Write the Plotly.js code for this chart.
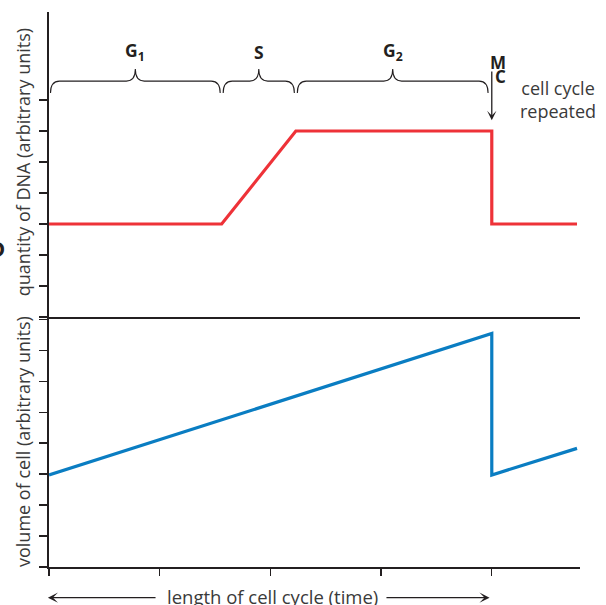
<!DOCTYPE html>
<html>
<head>
<meta charset="utf-8">
<script src="https://cdn.plot.ly/plotly-3.0.1.min.js"></script>
<style>
html,body{margin:0;padding:0;background:#fff;}
#chart{width:606px;height:605px;}
</style>
</head>
<body>
<div id="chart"></div>
<script>
// ---- data ----
const phaseLabels = ['G<sub>1</sub>', 'S', 'G<sub>2</sub>'];
const phaseStart = [0, 1.56, 2.23];
const phaseEnd = [1.56, 2.23, 3.98];

const timeDNA = [0, 1.56, 2.23, 4.0, 4.0, 4.77];
const dnaQty = [3, 3, 6, 6, 3, 3];

const timeVol = [0, 4.0, 4.0, 4.77];
const cellVol = [2.97, 7.54, 2.97, 3.83];

const xTickVals = [0, 1, 2, 3, 4];
const dnaTickVals = [0, 1, 2, 3, 4, 5, 6, 7];
const volTickVals = [0, 1, 2, 3, 4, 5, 6, 7, 8];

const mitosisTime = 4.0;

const dnaTitle = 'quantity of DNA (arbitrary units)';
const volTitle = 'volume of cell (arbitrary units)';
const timeTitle = 'length of cell cycle (time)';

// ---- styling ----
const FONT = 'Open Sans, Noto Sans, sans-serif';
const TEXT = '#3a3a3a';
const AX = '#231f20';
const RED = '#ee3238';
const BLUE = '#0a7dc2';

const traces = [
  {x: timeDNA, y: dnaQty, xaxis: 'x2', yaxis: 'y2', mode: 'lines',
   line: {color: RED, width: 3.2}, hoverinfo: 'skip', showlegend: false},
  {x: timeVol, y: cellVol, xaxis: 'x', yaxis: 'y', mode: 'lines',
   line: {color: BLUE, width: 3.2}, hoverinfo: 'skip', showlegend: false}
];

// brace shapes built from phase boundaries (data units of top panel)
const kx = 1 / 110.7, ky = 1 / 31;
function brace(x0, x1, yb) {
  x0 += 1.5 * kx; x1 -= 1.5 * kx;
  const xm = (x0 + x1) / 2, c = 9 * kx, h = 12 * ky;
  return `M${x0},${yb - h} Q${x0},${yb} ${x0 + c},${yb} L${xm - c},${yb} ` +
         `Q${xm},${yb} ${xm},${yb + h} Q${xm},${yb} ${xm + c},${yb} ` +
         `L${x1 - c},${yb} Q${x1},${yb} ${x1},${yb - h}`;
}
const shapes = phaseLabels.map((_, i) => ({
  type: 'path', xref: 'x2', yref: 'y2',
  path: brace(phaseStart[i], phaseEnd[i], 7.61),
  line: {color: AX, width: 1.1}
}));

const split = 250 / 555;

const annotations = phaseLabels.map((t, i) => ({
  xref: 'x2', yref: 'y2', x: (phaseStart[i] + phaseEnd[i]) / 2, y: 8.56,
  text: '<b>' + t + '</b>', showarrow: false,
  font: {family: FONT, size: 17.5, color: AX}
}));
annotations.push(
  {xref: 'x2', yref: 'y2', x: mitosisTime + 0.055, y: 8.2, text: '<b>M</b>', showarrow: false,
   font: {family: FONT, size: 17, color: AX}},
  {xref: 'x2', yref: 'y2', x: mitosisTime + 0.075, y: 7.76, text: '<b>C</b>', showarrow: false,
   font: {family: FONT, size: 17, color: AX}},
  {xref: 'x2', yref: 'y2', x: mitosisTime, y: 6.35, ax: mitosisTime, ay: 7.97,
   axref: 'x2', ayref: 'y2', text: '', showarrow: true, arrowhead: 3,
   arrowsize: 1.2, arrowwidth: 1.3, arrowcolor: AX},
  {xref: 'x2', yref: 'y2', x: 4.6, y: 7.02, text: 'cell cycle<br>repeated', showarrow: false,
   font: {family: FONT, size: 18, color: TEXT}},
  {xref: 'x', yref: 'paper', x: 2.02, y: -0.054, text: timeTitle,
   showarrow: false, yanchor: 'middle', font: {family: FONT, size: 18.5, color: TEXT}},
  {xref: 'x', yref: 'paper', x: -0.01, y: -0.0553, ax: 0.976, ay: 0, axref: 'x', ayref: 'pixel',
   text: '', showarrow: true, arrowhead: 3, arrowsize: 1.3, arrowwidth: 1.3, arrowcolor: AX},
  {xref: 'x', yref: 'paper', x: 3.98, y: -0.0553, ax: 3.035, ay: 0, axref: 'x', ayref: 'pixel',
   text: '', showarrow: true, arrowhead: 3, arrowsize: 1.3, arrowwidth: 1.3, arrowcolor: AX},
  {xref: 'paper', yref: 'paper', x: 0, xshift: -26, y: (split + 1) / 2 + 0.004, xanchor: 'center',
   yanchor: 'middle', textangle: -90, text: dnaTitle, showarrow: false,
   font: {family: FONT, size: 18, color: TEXT}},
  {xref: 'paper', yref: 'paper', x: 0, xshift: -26, y: split / 2, xanchor: 'center',
   yanchor: 'middle', textangle: -90, text: volTitle, showarrow: false,
   font: {family: FONT, size: 18, color: TEXT}},
  {xref: 'paper', yref: 'paper', x: 0, xshift: -42, y: 0.575, xanchor: 'right', yanchor: 'middle',
   text: '<b>D</b>', showarrow: false, font: {family: FONT, size: 22, color: AX}}
);

const baseX = {
  range: [0, 4.797], fixedrange: true, showgrid: false, zeroline: false,
  showline: true, linecolor: AX, linewidth: 1.6, showticklabels: false
};
const baseY = {
  fixedrange: true, showgrid: false, zeroline: false, showline: true,
  linecolor: AX, linewidth: 1.6, showticklabels: false, ticks: 'outside',
  ticklen: 8, tickwidth: 1.2, tickcolor: AX, tickmode: 'array'
};

const layout = {
  width: 606, height: 605,
  margin: {l: 49, r: 26, t: 12, b: 38, pad: 0},
  paper_bgcolor: '#fff', plot_bgcolor: '#fff',
  showlegend: false,
  xaxis: Object.assign({}, baseX, {anchor: 'y', domain: [0, 1], ticks: 'outside', ticklen: 7,
    tickwidth: 1.2, tickcolor: AX, tickmode: 'array', tickvals: xTickVals}),
  xaxis2: Object.assign({}, baseX, {anchor: 'y2', domain: [0, 1], ticks: ''}),
  yaxis: Object.assign({}, baseY, {anchor: 'x', domain: [0, split], range: [0, 8.07],
    tickvals: volTickVals}),
  yaxis2: Object.assign({}, baseY, {anchor: 'x2', domain: [split, 1], range: [0, 9.84],
    tickvals: dnaTickVals}),
  shapes: shapes,
  annotations: annotations
};

Plotly.newPlot('chart', traces, layout, {staticPlot: true, displayModeBar: false});
</script>
</body>
</html>
